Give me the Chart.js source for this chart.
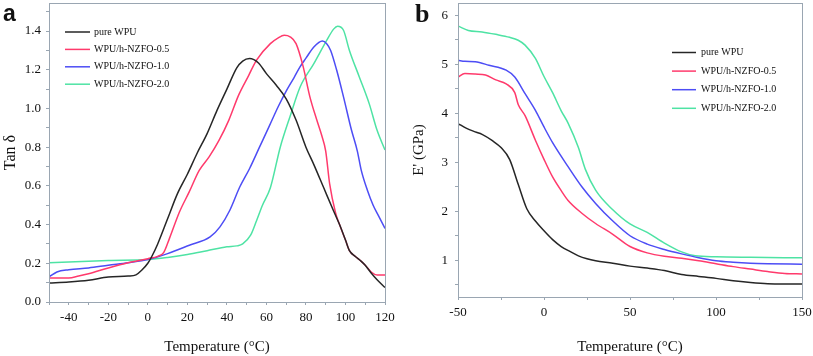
<!DOCTYPE html>
<html lang="en">
  <head>
    <meta charset="UTF-8" />
    <script src="https://cdn.jsdelivr.net/npm/chart.js@4.4.0/dist/chart.umd.min.js"></script>
    <title>Tan delta and storage modulus of WPU/h-NZFO</title>
    <style>
      body { margin: 0; background: #fff; }
      #wrap { position: relative; width: 813px; height: 356px; }
      canvas { position: absolute; top: 0; }
      #chartA { left: 0; }
      #chartB { left: 405px; }
      .tag { position: absolute; font-weight: bold; color: #111; }
    </style>
  </head>
  <body>
    <div id="wrap">
      <canvas id="chartA" width="405" height="356"></canvas>
      <canvas id="chartB" width="408" height="356"></canvas>
      <span class="tag" style="left:3px;top:0px;font:bold 23px 'Liberation Sans'">a</span>
      <span class="tag" style="left:415px;top:-1px;font:bold 26px 'Liberation Serif'">b</span>
    </div>

    <script>
      const seriesNames = ["pure WPU", "WPU/h-NZFO-0.5", "WPU/h-NZFO-1.0", "WPU/h-NZFO-2.0"];
      const colors = ["#262626", "#ff3a6c", "#4d4df5", "#4ee3a4"];

      // panel a: tan delta vs temperature
      const tempA_pure = [-50, -40, -30, -20, -10, -6, -3, 0, 2, 5, 10, 15, 20, 25, 30, 35, 40, 45, 48, 51.5, 56, 60, 65, 70, 75, 80, 84, 89, 94, 97, 100, 102, 105, 108, 110, 113, 116, 120];
      const tanA_pure = [0.098, 0.103, 0.112, 0.129, 0.134, 0.14, 0.165, 0.2, 0.235, 0.3, 0.43, 0.56, 0.66, 0.77, 0.87, 0.99, 1.1, 1.21, 1.245, 1.258, 1.235, 1.18, 1.12, 1.05, 0.94, 0.8, 0.71, 0.59, 0.47, 0.4, 0.32, 0.265, 0.235, 0.21, 0.19, 0.15, 0.115, 0.075];
      const tempA_05 = [-50, -40, -35, -30, -20, -10, 0, 5, 8, 11, 16, 21, 26, 31, 36, 41, 46, 51, 55, 62, 66, 69, 72, 75, 78.5, 82, 85.5, 88, 90, 92, 95, 97, 100, 102, 105, 108, 110, 113, 116, 120];
      const tanA_05 = [0.124, 0.124, 0.134, 0.146, 0.176, 0.203, 0.224, 0.236, 0.255, 0.33, 0.465, 0.57, 0.68, 0.75, 0.835, 0.94, 1.07, 1.17, 1.25, 1.335, 1.365, 1.378, 1.37, 1.335, 1.22, 1.06, 0.94, 0.86, 0.78, 0.61, 0.46, 0.4, 0.32, 0.265, 0.235, 0.21, 0.19, 0.155, 0.14, 0.14];
      const tempA_10 = [-50, -46, -40, -30, -20, -10, 0, 10, 21, 31.5, 36.5, 41.5, 46.5, 51.5, 56.5, 61.5, 66, 70, 74, 77, 80, 84, 88.3, 90.5, 92.5, 95.5, 99, 103, 106, 108, 111, 114, 117, 120];
      const tanA_10 = [0.129, 0.155, 0.167, 0.176, 0.19, 0.203, 0.219, 0.25, 0.293, 0.336, 0.388, 0.474, 0.594, 0.69, 0.8, 0.91, 1.01, 1.09, 1.16, 1.215, 1.26, 1.318, 1.349, 1.335, 1.3, 1.2, 1.06, 0.89, 0.78, 0.68, 0.58, 0.5, 0.44, 0.38];
      const tempA_20 = [-50, -40, -20, 0, 10, 20, 30, 40, 45, 48, 52, 55, 58, 62, 67, 72, 77, 84, 90.5, 94, 96, 99, 102, 107, 112, 116, 120];
      const tanA_20 = [0.203, 0.207, 0.214, 0.219, 0.23, 0.245, 0.265, 0.285, 0.29, 0.3, 0.345, 0.42, 0.5, 0.59, 0.8, 0.96, 1.11, 1.232, 1.352, 1.41, 1.425, 1.404, 1.3, 1.163, 1.025, 0.887, 0.785];

      const tanTicks = [0, 0.1, 0.2, 0.3, 0.4, 0.5, 0.6, 0.7, 0.8, 0.9, 1.0, 1.1, 1.2, 1.3, 1.4, 1.5];
      const tanLabels = [0, 0.2, 0.4, 0.6, 0.8, 1.0, 1.2, 1.4];
      const tempTicksA = [-50, -40, -30, -20, -10, 0, 10, 20, 30, 40, 50, 60, 70, 80, 90, 100, 110, 120];
      const tempLabelsA = [-40, -20, 0, 20, 40, 60, 80, 100, 120];

      // panel b: storage modulus vs temperature
      const tempB_pure = [-50, -45, -40, -36, -30, -25, -20, -15, -10, -5, 0, 5, 10, 15, 20, 25, 30, 40, 50, 60, 70, 80, 90, 100, 110, 120, 130, 140, 150];
      const modB_pure = [3.79, 3.69, 3.62, 3.57, 3.44, 3.3, 3.06, 2.55, 2.05, 1.8, 1.6, 1.42, 1.28, 1.18, 1.09, 1.03, 0.99, 0.94, 0.88, 0.84, 0.79, 0.71, 0.67, 0.63, 0.58, 0.545, 0.52, 0.515, 0.515];
      const tempB_05 = [-50, -46, -40, -34, -28, -22, -17, -15, -11, -5, 0, 5, 10, 14, 22, 30, 40, 50, 60, 70, 80, 90, 100, 110, 120, 130, 140, 150];
      const modB_05 = [4.74, 4.81, 4.8, 4.78, 4.68, 4.6, 4.42, 4.18, 3.95, 3.45, 3.06, 2.7, 2.42, 2.22, 1.96, 1.75, 1.53, 1.28, 1.15, 1.08, 1.04, 0.99, 0.93, 0.87, 0.82, 0.77, 0.73, 0.72];
      const tempB_10 = [-50, -46, -40, -32, -22, -17, -11, -5, 0, 5, 14, 22, 30, 40, 50, 60, 70, 80, 90, 100, 110, 120, 130, 150];
      const modB_10 = [5.08, 5.06, 5.05, 4.98, 4.88, 4.74, 4.4, 4.06, 3.72, 3.4, 2.91, 2.5, 2.16, 1.8, 1.5, 1.33, 1.22, 1.13, 1.05, 0.99, 0.96, 0.94, 0.93, 0.92];
      const tempB_20 = [-50, -44, -36, -28, -20, -15, -11, -5, 0, 5, 10, 14, 20, 24, 30, 40, 50, 60, 70, 80, 88, 100, 120, 150];
      const modB_20 = [5.78, 5.69, 5.66, 5.61, 5.55, 5.49, 5.39, 5.12, 4.75, 4.42, 4.05, 3.8, 3.3, 2.86, 2.43, 2.03, 1.74, 1.57, 1.35, 1.17, 1.09, 1.07, 1.06, 1.05];

      const modTicks = [0.5, 1, 1.5, 2, 2.5, 3, 3.5, 4, 4.5, 5, 5.5, 6];
      const modLabels = [1, 2, 3, 4, 5, 6];
      const tempTicksB = [-50, -25, 0, 25, 50, 75, 100, 125, 150];
      const tempLabelsB = [-50, 0, 50, 100, 150];

      const frameColor = "#9aa6b2";
      const textColor = "#111";

      function pairs(xs, ys) {
        return xs.map((x, i) => ({ x: x, y: ys[i] }));
      }

      function inList(list, v) {
        return list.some((l) => Math.abs(l - v) < 1e-6);
      }

      // draws the box round the plot area
      const frame = {
        id: "frame",
        afterDraw(chart) {
          const a = chart.chartArea;
          const ctx = chart.ctx;
          ctx.save();
          ctx.strokeStyle = frameColor;
          ctx.lineWidth = 1;
          ctx.strokeRect(Math.round(a.left) + 0.5, Math.round(a.top) + 0.5, Math.round(a.right - a.left), Math.round(a.bottom - a.top));
          ctx.restore();
        },
      };

      // legend drawn inside the plot
      const insideLegend = {
        id: "insideLegend",
        afterDraw(chart, args, opts) {
          const ctx = chart.ctx;
          ctx.save();
          ctx.font = opts.font;
          ctx.textBaseline = "middle";
          chart.data.datasets.forEach((ds, i) => {
            const y = opts.y + i * opts.gap;
            ctx.strokeStyle = ds.borderColor;
            ctx.lineWidth = 1.5;
            ctx.beginPath();
            ctx.moveTo(opts.x, y);
            ctx.lineTo(opts.x + opts.lineLen, y);
            ctx.stroke();
            ctx.fillStyle = textColor;
            ctx.fillText(ds.label, opts.x + opts.lineLen + opts.textGap, y);
          });
          ctx.restore();
        },
      };

      function makeDatasets(xsList, ysList) {
        return seriesNames.map((name, i) => ({
          label: name,
          data: pairs(xsList[i], ysList[i]),
          borderColor: colors[i],
          backgroundColor: colors[i],
          borderWidth: 1.5,
          pointRadius: 0,
          cubicInterpolationMode: "monotone",
          fill: false,
        }));
      }

      function axis(cfg) {
        return {
          type: "linear",
          min: cfg.min,
          max: cfg.max,
          afterBuildTicks: (scale) => {
            scale.ticks = cfg.ticks.map((v) => ({ value: v }));
          },
          afterFit: (scale) => {
            if (cfg.width) scale.width = cfg.width;
            if (cfg.height) scale.height = cfg.height;
            scale.paddingTop = 0;
            scale.paddingBottom = 0;
            scale.paddingLeft = 0;
            scale.paddingRight = 0;
          },
          border: { display: true, color: frameColor, width: 1 },
          grid: {
            drawOnChartArea: false,
            drawTicks: true,
            tickLength: 3,
            color: frameColor,
            tickColor: frameColor,
          },
          ticks: {
            autoSkip: false,
            maxRotation: 0,
            padding: cfg.pad,
            color: textColor,
            font: { family: "'Liberation Serif', serif", size: 13 },
            callback: (v) => (inList(cfg.labels, v) ? cfg.fmt(v) : ""),
          },
          title: {
            display: true,
            text: cfg.title,
            color: textColor,
            font: { family: "'Liberation Serif', serif", size: cfg.titleSize },
            padding: cfg.titlePad,
          },
        };
      }

      Chart.defaults.animation = false;

      new Chart(document.getElementById("chartA"), {
        type: "line",
        data: {
          datasets: makeDatasets(
            [tempA_pure, tempA_05, tempA_10, tempA_20],
            [tanA_pure, tanA_05, tanA_10, tanA_20]
          ),
        },
        options: {
          responsive: false,
          devicePixelRatio: 1,
          layout: { padding: { left: 0, top: 3, right: 20, bottom: 0 } },
          plugins: {
            legend: { display: false },
            tooltip: { enabled: false },
            insideLegend: { x: 65, y: 32, gap: 17.4, lineLen: 25, textGap: 4, font: "10px 'Liberation Serif'" },
          },
          scales: {
            x: axis({
              min: -50, max: 120, ticks: tempTicksA, labels: tempLabelsA,
              fmt: (v) => String(v), height: 54, pad: 5,
              title: "Temperature (°C)", titleSize: 15, titlePad: { top: 0, bottom: 0 },
            }),
            y: axis({
              min: 0, max: 1.545, ticks: tanTicks, labels: tanLabels,
              fmt: (v) => v.toFixed(1), width: 49, pad: 5,
              title: "Tan δ", titleSize: 16, titlePad: { top: 1, bottom: 0 },
            }),
          },
        },
        plugins: [frame, insideLegend],
      });

      new Chart(document.getElementById("chartB"), {
        type: "line",
        data: {
          datasets: makeDatasets(
            [tempB_pure, tempB_05, tempB_10, tempB_20],
            [modB_pure, modB_05, modB_10, modB_20]
          ),
        },
        options: {
          responsive: false,
          devicePixelRatio: 1,
          layout: { padding: { left: 0, top: 3, right: 11, bottom: 0 } },
          plugins: {
            legend: { display: false },
            tooltip: { enabled: false },
            insideLegend: { x: 267, y: 52.5, gap: 18.6, lineLen: 24, textGap: 5, font: "10px 'Liberation Serif'" },
          },
          scales: {
            x: axis({
              min: -50, max: 150, ticks: tempTicksB, labels: tempLabelsB,
              fmt: (v) => String(v), height: 59, pad: 5,
              title: "Temperature (°C)", titleSize: 15, titlePad: { top: 0, bottom: 0 },
            }),
            y: axis({
              min: 0.25, max: 6.25, ticks: modTicks, labels: modLabels,
              fmt: (v) => String(v), width: 53, pad: 7,
              title: "E' (GPa)", titleSize: 15, titlePad: { top: 5, bottom: 0 },
            }),
          },
        },
        plugins: [frame, insideLegend],
      });
    </script>
  </body>
</html>
